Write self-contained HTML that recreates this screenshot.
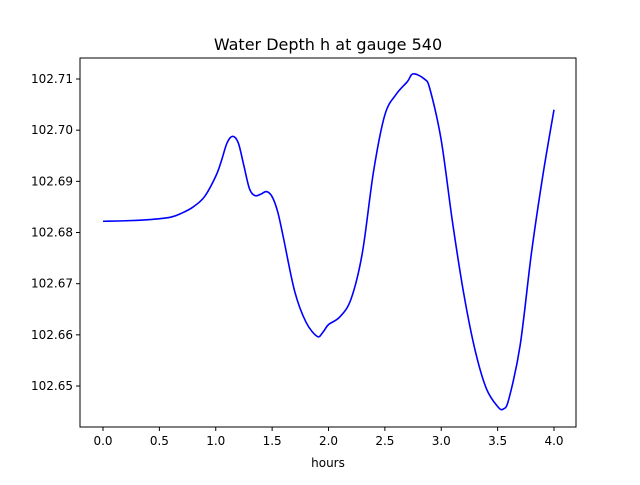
<!DOCTYPE html>
<html><head><meta charset="utf-8"><style>
body{margin:0;background:#fff;}
svg text{font-family:"DejaVu Sans","Liberation Sans",sans-serif;}
</style></head><body>
<svg id="chart" width="640" height="480" viewBox="0 0 640 480">
<rect width="640" height="480" fill="#fff"/>
<text x="328" y="50" font-size="16" text-anchor="middle">Water Depth h at gauge 540</text>
<g id="plot"></g>
<rect x="80" y="58" width="496" height="369" fill="none" stroke="#000" stroke-width="1"/>
<text x="328" y="467" font-size="12" text-anchor="middle">hours</text>
</svg>
<script>
const times=[0.0,0.2,0.4,0.6,0.7,0.8,0.9,1.0,1.05,1.1,1.15,1.2,1.25,1.3,1.35,1.4,1.45,1.5,1.55,1.6,1.7,1.8,1.9,1.95,2.0,2.1,2.2,2.3,2.4,2.5,2.6,2.7,2.75,2.85,2.9,3.0,3.1,3.2,3.3,3.4,3.5,3.55,3.6,3.7,3.8,3.9,4.0];
const depths=[102.6822,102.6823,102.6825,102.6830,102.6838,102.6850,102.6870,102.6910,102.6940,102.6975,102.6988,102.6975,102.6930,102.6885,102.6872,102.6875,102.6880,102.6870,102.6840,102.6790,102.6685,102.6625,102.6597,102.6605,102.6620,102.6635,102.6670,102.6760,102.6920,102.7030,102.7070,102.7095,102.7110,102.7100,102.7080,102.6980,102.6820,102.6680,102.6570,102.6495,102.6460,102.6455,102.6475,102.6580,102.6760,102.6910,102.7040];
const xTicks=[0,0.5,1,1.5,2,2.5,3,3.5,4];
const xTickLabels=["0.0","0.5","1.0","1.5","2.0","2.5","3.0","3.5","4.0"];
const yTicks=[102.65,102.66,102.67,102.68,102.69,102.70,102.71];
const yTickLabels=["102.65","102.66","102.67","102.68","102.69","102.70","102.71"];
const NS="http://www.w3.org/2000/svg";
const g=document.getElementById('plot');
const X=t=>103+t*112.75;
const Y=v=>79+(102.71-v)*5117;
function mk(tag,attrs){const e=document.createElementNS(NS,tag);for(const k in attrs)e.setAttribute(k,attrs[k]);g.appendChild(e);return e;}
xTicks.forEach((t,i)=>{
  const l=mk('line',{x1:X(t),x2:X(t),y1:427,y2:431,stroke:'#000'});
  
  
  const tx=mk('text',{x:X(t),y:445,'font-size':12,'text-anchor':'middle'});
  tx.textContent=xTickLabels[i];
  
  
});
yTicks.forEach((v,i)=>{
  const l=mk('line',{x1:76,x2:80,y1:Y(v),y2:Y(v),stroke:'#000'});
  
  
  const tx=mk('text',{x:73,y:Y(v)+4,'font-size':12,'text-anchor':'end'});
  tx.textContent=yTickLabels[i];
  
  
});
// Catmull-Rom smooth path
const pts=times.map((t,i)=>[X(t),Y(depths[i])]);
let d='M'+pts[0][0]+','+pts[0][1];
for(let i=0;i<pts.length-1;i++){
  const p0=pts[Math.max(0,i-1)],p1=pts[i],p2=pts[i+1],p3=pts[Math.min(pts.length-1,i+2)];
  const c1x=p1[0]+(p2[0]-p0[0])/6,c1y=p1[1]+(p2[1]-p0[1])/6;
  const c2x=p2[0]-(p3[0]-p1[0])/6,c2y=p2[1]-(p3[1]-p1[1])/6;
  d+=' C'+c1x+','+c1y+' '+c2x+','+c2y+' '+p2[0]+','+p2[1];
}
const path=mk('path',{d:d,fill:'none',stroke:'#0000ff','stroke-width':1.6});


</script>
</body></html>
